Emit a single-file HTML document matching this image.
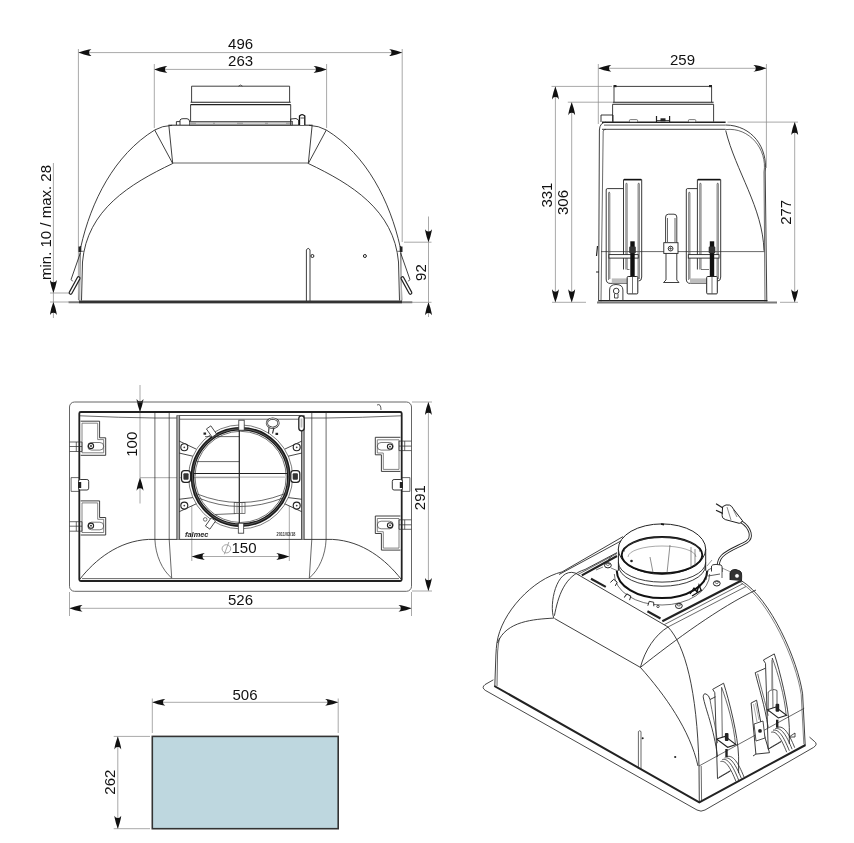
<!DOCTYPE html>
<html><head><meta charset="utf-8"><style>
html,body{margin:0;padding:0;background:#fff;}
svg{display:block;font-family:"Liberation Sans",sans-serif;will-change:transform;}
</style></head><body>
<svg width="854" height="843" viewBox="0 0 854 843">
<rect width="854" height="843" fill="#fff"/>
<line x1="78.4" y1="52.6" x2="402.2" y2="52.6" stroke="#8c8c8c" stroke-width="0.75" fill="none"/><path d="M78.40,52.60 Q84.25,54.84 88.80,55.66 Q90.75,56.00 91.40,56.00 Q88.80,54.64 89.06,52.60 Q88.80,50.56 91.40,49.20 Q90.75,49.20 88.80,49.54 Q84.25,50.36 78.40,52.60Z" fill="#111" stroke="none"/><path d="M402.20,52.60 Q396.35,50.36 391.80,49.54 Q389.85,49.20 389.20,49.20 Q391.80,50.56 391.54,52.60 Q391.80,54.64 389.20,56.00 Q389.85,56.00 391.80,55.66 Q396.35,54.84 402.20,52.60Z" fill="#111" stroke="none"/><line x1="78.4" y1="49.0" x2="78.4" y2="300.0" stroke="#8c8c8c" stroke-width="0.75" fill="none"/><line x1="402.2" y1="49.0" x2="402.2" y2="242.0" stroke="#8c8c8c" stroke-width="0.75" fill="none"/><text x="240.6" y="49" font-size="15" text-anchor="middle" fill="#111">496</text><line x1="154.3" y1="69.4" x2="326.6" y2="69.4" stroke="#8c8c8c" stroke-width="0.75" fill="none"/><path d="M154.30,69.40 Q160.15,71.64 164.70,72.46 Q166.65,72.80 167.30,72.80 Q164.70,71.44 164.96,69.40 Q164.70,67.36 167.30,66.00 Q166.65,66.00 164.70,66.34 Q160.15,67.16 154.30,69.40Z" fill="#111" stroke="none"/><path d="M326.60,69.40 Q320.75,67.16 316.20,66.34 Q314.25,66.00 313.60,66.00 Q316.20,67.36 315.94,69.40 Q316.20,71.44 313.60,72.80 Q314.25,72.80 316.20,72.46 Q320.75,71.64 326.60,69.40Z" fill="#111" stroke="none"/><line x1="154.3" y1="64.0" x2="154.3" y2="128.0" stroke="#8c8c8c" stroke-width="0.75" fill="none"/><line x1="326.6" y1="64.0" x2="326.6" y2="128.0" stroke="#8c8c8c" stroke-width="0.75" fill="none"/><text x="240.6" y="65.8" font-size="15" text-anchor="middle" fill="#111">263</text><line x1="53.4" y1="163.0" x2="53.4" y2="293.0" stroke="#8c8c8c" stroke-width="0.75" fill="none"/><path d="M53.40,293.00 Q55.64,287.15 56.46,282.60 Q56.80,280.65 56.80,280.00 Q55.44,282.60 53.40,282.34 Q51.36,282.60 50.00,280.00 Q50.00,280.65 50.34,282.60 Q51.16,287.15 53.40,293.00Z" fill="#111" stroke="none"/><line x1="53.4" y1="302.0" x2="53.4" y2="318.0" stroke="#8c8c8c" stroke-width="0.75" fill="none"/><path d="M53.40,302.00 Q51.16,307.85 50.34,312.40 Q50.00,314.35 50.00,315.00 Q51.36,312.40 53.40,312.66 Q55.44,312.40 56.80,315.00 Q56.80,314.35 56.46,312.40 Q55.64,307.85 53.40,302.00Z" fill="#111" stroke="none"/><line x1="50.0" y1="293.0" x2="69.0" y2="293.0" stroke="#8c8c8c" stroke-width="0.75" fill="none"/><line x1="50.0" y1="302.0" x2="69.0" y2="302.0" stroke="#8c8c8c" stroke-width="0.75" fill="none"/><line x1="53.4" y1="293.0" x2="53.4" y2="302.0" stroke="#8c8c8c" stroke-width="0.75" fill="none"/><text x="51.3" y="222.5" font-size="15" text-anchor="middle" fill="#111" transform="rotate(-90 51.3 222.5)">min. 10 / max. 28</text><line x1="428.5" y1="216.5" x2="428.5" y2="242.2" stroke="#8c8c8c" stroke-width="0.75" fill="none"/><path d="M428.50,242.20 Q430.74,236.35 431.56,231.80 Q431.90,229.85 431.90,229.20 Q430.54,231.80 428.50,231.54 Q426.46,231.80 425.10,229.20 Q425.10,229.85 425.44,231.80 Q426.26,236.35 428.50,242.20Z" fill="#111" stroke="none"/><line x1="404.0" y1="242.2" x2="431.5" y2="242.2" stroke="#8c8c8c" stroke-width="0.75" fill="none"/><line x1="428.5" y1="302.3" x2="428.5" y2="317.0" stroke="#8c8c8c" stroke-width="0.75" fill="none"/><path d="M428.50,302.30 Q426.26,308.15 425.44,312.70 Q425.10,314.65 425.10,315.30 Q426.46,312.70 428.50,312.96 Q430.54,312.70 431.90,315.30 Q431.90,314.65 431.56,312.70 Q430.74,308.15 428.50,302.30Z" fill="#111" stroke="none"/><line x1="412.0" y1="302.3" x2="431.5" y2="302.3" stroke="#8c8c8c" stroke-width="0.75" fill="none"/><text x="426.5" y="272.6" font-size="15" text-anchor="middle" fill="#111" transform="rotate(-90 426.5 272.6)">92</text><line x1="428.5" y1="242.2" x2="428.5" y2="302.3" stroke="#8c8c8c" stroke-width="0.75" fill="none"/><line x1="598.3" y1="68.3" x2="766.4" y2="68.3" stroke="#8c8c8c" stroke-width="0.75" fill="none"/><path d="M598.30,68.30 Q604.15,70.54 608.70,71.36 Q610.65,71.70 611.30,71.70 Q608.70,70.34 608.96,68.30 Q608.70,66.26 611.30,64.90 Q610.65,64.90 608.70,65.24 Q604.15,66.06 598.30,68.30Z" fill="#111" stroke="none"/><path d="M766.40,68.30 Q760.55,66.06 756.00,65.24 Q754.05,64.90 753.40,64.90 Q756.00,66.26 755.74,68.30 Q756.00,70.34 753.40,71.70 Q754.05,71.70 756.00,71.36 Q760.55,70.54 766.40,68.30Z" fill="#111" stroke="none"/><line x1="598.3" y1="64.0" x2="598.3" y2="124.0" stroke="#8c8c8c" stroke-width="0.75" fill="none"/><line x1="766.4" y1="64.0" x2="766.4" y2="168.0" stroke="#8c8c8c" stroke-width="0.75" fill="none"/><text x="682.5" y="65" font-size="15" text-anchor="middle" fill="#111">259</text><line x1="555.4" y1="86.4" x2="555.4" y2="302.3" stroke="#8c8c8c" stroke-width="0.75" fill="none"/><path d="M555.40,86.40 Q553.16,92.25 552.34,96.80 Q552.00,98.75 552.00,99.40 Q553.36,96.80 555.40,97.06 Q557.44,96.80 558.80,99.40 Q558.80,98.75 558.46,96.80 Q557.64,92.25 555.40,86.40Z" fill="#111" stroke="none"/><path d="M555.40,302.30 Q557.64,296.45 558.46,291.90 Q558.80,289.95 558.80,289.30 Q557.44,291.90 555.40,291.64 Q553.36,291.90 552.00,289.30 Q552.00,289.95 552.34,291.90 Q553.16,296.45 555.40,302.30Z" fill="#111" stroke="none"/><line x1="551.5" y1="86.4" x2="612.0" y2="86.4" stroke="#8c8c8c" stroke-width="0.75" fill="none"/><line x1="571.7" y1="102.2" x2="571.7" y2="302.3" stroke="#8c8c8c" stroke-width="0.75" fill="none"/><path d="M571.70,102.20 Q569.46,108.05 568.64,112.60 Q568.30,114.55 568.30,115.20 Q569.66,112.60 571.70,112.86 Q573.74,112.60 575.10,115.20 Q575.10,114.55 574.76,112.60 Q573.94,108.05 571.70,102.20Z" fill="#111" stroke="none"/><path d="M571.70,302.30 Q573.94,296.45 574.76,291.90 Q575.10,289.95 575.10,289.30 Q573.74,291.90 571.70,291.64 Q569.66,291.90 568.30,289.30 Q568.30,289.95 568.64,291.90 Q569.46,296.45 571.70,302.30Z" fill="#111" stroke="none"/><line x1="567.8" y1="102.2" x2="612.0" y2="102.2" stroke="#8c8c8c" stroke-width="0.75" fill="none"/><line x1="552.0" y1="302.3" x2="586.0" y2="302.3" stroke="#8c8c8c" stroke-width="0.75" fill="none"/><text x="552.3" y="195.1" font-size="15" text-anchor="middle" fill="#111" transform="rotate(-90 552.3 195.1)">331</text><text x="568.2" y="202.5" font-size="15" text-anchor="middle" fill="#111" transform="rotate(-90 568.2 202.5)">306</text><line x1="794.7" y1="122.1" x2="794.7" y2="302.3" stroke="#8c8c8c" stroke-width="0.75" fill="none"/><path d="M794.70,122.10 Q792.46,127.95 791.64,132.50 Q791.30,134.45 791.30,135.10 Q792.66,132.50 794.70,132.76 Q796.74,132.50 798.10,135.10 Q798.10,134.45 797.76,132.50 Q796.94,127.95 794.70,122.10Z" fill="#111" stroke="none"/><path d="M794.70,302.30 Q796.94,296.45 797.76,291.90 Q798.10,289.95 798.10,289.30 Q796.74,291.90 794.70,291.64 Q792.66,291.90 791.30,289.30 Q791.30,289.95 791.64,291.90 Q792.46,296.45 794.70,302.30Z" fill="#111" stroke="none"/><line x1="727.5" y1="122.1" x2="798.0" y2="122.1" stroke="#8c8c8c" stroke-width="0.75" fill="none"/><line x1="780.0" y1="302.3" x2="798.0" y2="302.3" stroke="#8c8c8c" stroke-width="0.75" fill="none"/><text x="790.6" y="212.3" font-size="15" text-anchor="middle" fill="#111" transform="rotate(-90 790.6 212.3)">277</text><line x1="69.5" y1="608.3" x2="411.5" y2="608.3" stroke="#8c8c8c" stroke-width="0.75" fill="none"/><path d="M69.50,608.30 Q75.35,610.54 79.90,611.36 Q81.85,611.70 82.50,611.70 Q79.90,610.34 80.16,608.30 Q79.90,606.26 82.50,604.90 Q81.85,604.90 79.90,605.24 Q75.35,606.06 69.50,608.30Z" fill="#111" stroke="none"/><path d="M411.50,608.30 Q405.65,606.06 401.10,605.24 Q399.15,604.90 398.50,604.90 Q401.10,606.26 400.84,608.30 Q401.10,610.34 398.50,611.70 Q399.15,611.70 401.10,611.36 Q405.65,610.54 411.50,608.30Z" fill="#111" stroke="none"/><line x1="69.5" y1="592.0" x2="69.5" y2="616.0" stroke="#8c8c8c" stroke-width="0.75" fill="none"/><line x1="411.5" y1="592.0" x2="411.5" y2="616.0" stroke="#8c8c8c" stroke-width="0.75" fill="none"/><text x="240.5" y="604.5" font-size="15" text-anchor="middle" fill="#111">526</text><line x1="428.4" y1="402.0" x2="428.4" y2="591.0" stroke="#8c8c8c" stroke-width="0.75" fill="none"/><path d="M428.40,402.00 Q426.16,407.85 425.34,412.40 Q425.00,414.35 425.00,415.00 Q426.36,412.40 428.40,412.66 Q430.44,412.40 431.80,415.00 Q431.80,414.35 431.46,412.40 Q430.64,407.85 428.40,402.00Z" fill="#111" stroke="none"/><path d="M428.40,591.00 Q430.64,585.15 431.46,580.60 Q431.80,578.65 431.80,578.00 Q430.44,580.60 428.40,580.34 Q426.36,580.60 425.00,578.00 Q425.00,578.65 425.34,580.60 Q426.16,585.15 428.40,591.00Z" fill="#111" stroke="none"/><line x1="412.0" y1="402.0" x2="432.0" y2="402.0" stroke="#8c8c8c" stroke-width="0.75" fill="none"/><line x1="412.0" y1="591.0" x2="432.0" y2="591.0" stroke="#8c8c8c" stroke-width="0.75" fill="none"/><text x="425.2" y="497.6" font-size="15" text-anchor="middle" fill="#111" transform="rotate(-90 425.2 497.6)">291</text><line x1="140.0" y1="385.0" x2="140.0" y2="412.0" stroke="#8c8c8c" stroke-width="0.75" fill="none"/><path d="M140.00,412.00 Q142.24,406.15 143.06,401.60 Q143.40,399.65 143.40,399.00 Q142.04,401.60 140.00,401.34 Q137.96,401.60 136.60,399.00 Q136.60,399.65 136.94,401.60 Q137.76,406.15 140.00,412.00Z" fill="#111" stroke="none"/><line x1="140.0" y1="477.7" x2="140.0" y2="503.5" stroke="#8c8c8c" stroke-width="0.75" fill="none"/><path d="M140.00,477.70 Q137.76,483.55 136.94,488.10 Q136.60,490.05 136.60,490.70 Q137.96,488.10 140.00,488.36 Q142.04,488.10 143.40,490.70 Q143.40,490.05 143.06,488.10 Q142.24,483.55 140.00,477.70Z" fill="#111" stroke="none"/><line x1="140.0" y1="477.7" x2="240.0" y2="477.7" stroke="#8c8c8c" stroke-width="0.75" fill="none"/><text x="137.2" y="444.2" font-size="15" text-anchor="middle" fill="#111" transform="rotate(-90 137.2 444.2)">100</text><line x1="140.0" y1="412.0" x2="140.0" y2="477.7" stroke="#8c8c8c" stroke-width="0.75" fill="none"/><line x1="191.8" y1="556.5" x2="289.3" y2="556.5" stroke="#8c8c8c" stroke-width="0.75" fill="none"/><path d="M191.80,556.50 Q197.65,558.74 202.20,559.56 Q204.15,559.90 204.80,559.90 Q202.20,558.54 202.46,556.50 Q202.20,554.46 204.80,553.10 Q204.15,553.10 202.20,553.44 Q197.65,554.26 191.80,556.50Z" fill="#111" stroke="none"/><path d="M289.30,556.50 Q283.45,554.26 278.90,553.44 Q276.95,553.10 276.30,553.10 Q278.90,554.46 278.64,556.50 Q278.90,558.54 276.30,559.90 Q276.95,559.90 278.90,559.56 Q283.45,558.74 289.30,556.50Z" fill="#111" stroke="none"/><line x1="191.8" y1="506.0" x2="191.8" y2="561.0" stroke="#8c8c8c" stroke-width="0.75" fill="none"/><line x1="289.3" y1="506.0" x2="289.3" y2="561.0" stroke="#8c8c8c" stroke-width="0.75" fill="none"/><text x="244" y="552.9" font-size="15" text-anchor="middle" fill="#111">150</text><ellipse cx="226.4" cy="548.8" rx="4.3" ry="4.1" fill="none" stroke="#9a9a9a" stroke-width="0.9"/><path d="M228.9,542 L224.3,554.3" stroke="#9a9a9a" stroke-width="0.9"/><line x1="152.3" y1="702.3" x2="338.2" y2="702.3" stroke="#8c8c8c" stroke-width="0.75" fill="none"/><path d="M152.30,702.30 Q158.15,704.54 162.70,705.36 Q164.65,705.70 165.30,705.70 Q162.70,704.34 162.96,702.30 Q162.70,700.26 165.30,698.90 Q164.65,698.90 162.70,699.24 Q158.15,700.06 152.30,702.30Z" fill="#111" stroke="none"/><path d="M338.20,702.30 Q332.35,700.06 327.80,699.24 Q325.85,698.90 325.20,698.90 Q327.80,700.26 327.54,702.30 Q327.80,704.34 325.20,705.70 Q325.85,705.70 327.80,705.36 Q332.35,704.54 338.20,702.30Z" fill="#111" stroke="none"/><line x1="152.3" y1="698.5" x2="152.3" y2="733.0" stroke="#8c8c8c" stroke-width="0.75" fill="none"/><line x1="338.2" y1="698.5" x2="338.2" y2="733.0" stroke="#8c8c8c" stroke-width="0.75" fill="none"/><text x="245" y="699.5" font-size="15" text-anchor="middle" fill="#111">506</text><line x1="117.8" y1="736.4" x2="117.8" y2="828.7" stroke="#8c8c8c" stroke-width="0.75" fill="none"/><path d="M117.80,736.40 Q115.56,742.25 114.74,746.80 Q114.40,748.75 114.40,749.40 Q115.76,746.80 117.80,747.06 Q119.84,746.80 121.20,749.40 Q121.20,748.75 120.86,746.80 Q120.04,742.25 117.80,736.40Z" fill="#111" stroke="none"/><path d="M117.80,828.70 Q120.04,822.85 120.86,818.30 Q121.20,816.35 121.20,815.70 Q119.84,818.30 117.80,818.04 Q115.76,818.30 114.40,815.70 Q114.40,816.35 114.74,818.30 Q115.56,822.85 117.80,828.70Z" fill="#111" stroke="none"/><line x1="113.7" y1="736.4" x2="150.0" y2="736.4" stroke="#8c8c8c" stroke-width="0.75" fill="none"/><line x1="113.7" y1="828.7" x2="150.0" y2="828.7" stroke="#8c8c8c" stroke-width="0.75" fill="none"/><text x="115" y="782.2" font-size="15" text-anchor="middle" fill="#111" transform="rotate(-90 115 782.2)">262</text><rect x="152.3" y="736.4" width="185.9" height="92.3" fill="#bed7df" stroke="#333" stroke-width="1.6"/><path d="M172,125.3 Q162,125.8 154.7,130 C114.2,154.9 90.9,201.8 80.8,247" stroke="#2a2a2a" stroke-width="0.9" fill="none"/><path d="M154.7,130 L172.7,163.5" stroke="#2a2a2a" stroke-width="0.9" fill="none"/><path d="M168.9,125.8 L172.7,163.5" stroke="#2a2a2a" stroke-width="0.9" fill="none"/><path d="M172.7,163.5 C129.8,184 87.1,209.7 82.5,262" stroke="#2a2a2a" stroke-width="0.9" fill="none"/><path d="M80.6,246 L79.2,300.5 M82.5,262 L81.5,300.5" stroke="#2a2a2a" stroke-width="0.9" fill="none"/><rect x="78.5" y="246.5" width="2.8" height="5.5" fill="#222"/><path d="M79.8,252 L79.8,300 " stroke="#bbb" stroke-width="1.4"/><path d="M81,251.3 L83.7,251.3" stroke="#333" stroke-width="0.7"/><path d="M80.4,252.8 L71.1,279.4 L72.6,281.3" stroke="#2a2a2a" stroke-width="0.9" fill="none"/><path d="M78.6,278.2 L70.6,292.8" stroke="#222" stroke-width="4" stroke-linecap="round" fill="none"/><path d="M78.6,278.2 L70.6,292.8" stroke="#fff" stroke-width="1.6" stroke-linecap="round" fill="none"/><g transform="translate(481,0) scale(-1,1)"><path d="M172,125.3 Q162,125.8 154.7,130 C114.2,154.9 90.9,201.8 80.8,247" stroke="#2a2a2a" stroke-width="0.9" fill="none"/><path d="M154.7,130 L172.7,163.5" stroke="#2a2a2a" stroke-width="0.9" fill="none"/><path d="M168.9,125.8 L172.7,163.5" stroke="#2a2a2a" stroke-width="0.9" fill="none"/><path d="M172.7,163.5 C129.8,184 87.1,209.7 82.5,262" stroke="#2a2a2a" stroke-width="0.9" fill="none"/><path d="M80.6,246 L79.2,300.5 M82.5,262 L81.5,300.5" stroke="#2a2a2a" stroke-width="0.9" fill="none"/><rect x="78.5" y="246.5" width="2.8" height="5.5" fill="#222"/><path d="M79.8,252 L79.8,300 " stroke="#bbb" stroke-width="1.4"/><path d="M81,251.3 L83.7,251.3" stroke="#333" stroke-width="0.7"/><path d="M80.4,252.8 L71.1,279.4 L72.6,281.3" stroke="#2a2a2a" stroke-width="0.9" fill="none"/><path d="M78.6,278.2 L70.6,292.8" stroke="#222" stroke-width="4" stroke-linecap="round" fill="none"/><path d="M78.6,278.2 L70.6,292.8" stroke="#fff" stroke-width="1.6" stroke-linecap="round" fill="none"/></g><path d="M168.4,125.2 L312.6,125.2" stroke="#222" stroke-width="1"/><path d="M173,163 L308,163" stroke="#555" stroke-width="0.9"/><path d="M68.6,302.3 L412.3,302.3" stroke="#7a7a7a" stroke-width="2"/><path d="M79,301.9 L402,301.9" stroke="#333" stroke-width="2.6"/><path d="M191.6,102 L191.6,86.2 L289.6,86.2 L289.6,102" stroke="#2a2a2a" stroke-width="0.9" fill="none"/><path d="M190.6,102.3 L290.7,102.3 M190.6,104.6 L290.7,104.6" stroke="#222" stroke-width="1.1"/><path d="M190.6,104.6 L190.6,121.6 M290.7,104.6 L290.7,121.6" stroke="#2a2a2a" stroke-width="0.9" fill="none"/><rect x="189.6" y="121.4" width="102.8" height="3.8" fill="#a8a8a8" stroke="#333" stroke-width="0.7"/><path d="M196,123.3 L213,123.3 M215,123.3 L237,123.3 M243,123.3 L265,123.3 M268,123.3 L286,123.3" stroke="#eee" stroke-width="0.8"/><path d="M180,125 L180,120 Q180.5,118.7 183,118.7 L187,118.7 Q189.6,119 189.6,121.4 M176.4,125 L176.4,121.6 L180,121.6 M290.7,125 L290.7,119 L296,118.5 L298.6,120 L298.6,125" stroke="#222" stroke-width="0.9" fill="none"/><path d="M299.5,125 L299.5,116 Q302,113.2 304.8,116 L304.8,125" stroke="#111" stroke-width="1.3" fill="#fff"/><path d="M300.5,118 L304,118" stroke="#222" stroke-width="0.8"/><path d="M238.5,86.2 Q240.5,83.8 242.5,86.2" stroke="#333" stroke-width="0.8" fill="none"/><path d="M306.4,301 L306.4,250 Q308.2,246.8 310,250 L310,301" stroke="#2a2a2a" stroke-width="0.9" fill="none"/><circle cx="312.4" cy="256" r="1.5" fill="none" stroke="#222" stroke-width="1"/><circle cx="364.9" cy="256" r="1.5" fill="none" stroke="#222" stroke-width="1"/><path d="M614,102.2 L614,86.4 L711.6,86.4 L711.6,102.2" stroke="#2a2a2a" stroke-width="0.9" fill="none"/><path d="M612.6,102.2 L713.6,102.2 M612.6,104.3 L713.6,104.3" stroke="#222" stroke-width="1.1"/><path d="M612.6,104.3 L612.6,121.7 M713.6,104.3 L713.6,121.7" stroke="#2a2a2a" stroke-width="0.9" fill="none"/><path d="M602,122.2 L725.6,122.2" stroke="#222" stroke-width="1.6"/><path d="M602,129.3 L725.6,129.3" stroke="#2a2a2a" stroke-width="0.9" fill="none"/><path d="M598.6,301.5 L599.4,130 Q599.8,122.5 606,122.2" stroke="#2a2a2a" stroke-width="0.9" fill="none"/><path d="M601,301.5 L603.2,131 Q603.4,129.5 606,129.3" stroke="#2a2a2a" stroke-width="0.7" fill="none"/><path d="M725.7,125 C751.8,125.3 767.9,147.2 765.2,172 L766.8,301.5" stroke="#2a2a2a" stroke-width="0.9" fill="none"/><path d="M725.7,129.6 C749.3,126.8 767.6,149.5 764,172 L765,301.5" stroke="#2a2a2a" stroke-width="0.7" fill="none"/><path d="M725.7,130.5 C735.7,171.2 762.8,207.5 764,250.8" stroke="#2a2a2a" stroke-width="0.9" fill="none"/><path d="M601,251.6 L764.5,251.6" stroke="#2a2a2a" stroke-width="0.7" fill="none"/><path d="M597,302.4 L777,302.4" stroke="#7a7a7a" stroke-width="2"/><path d="M599,300.6 L767.4,300.6" stroke="#222" stroke-width="1.1"/><path d="M601,122 L601,115 L613,115 L613,122" stroke="#222" stroke-width="0.9" fill="none"/><path d="M656.5,122 L656.5,116 M669.6,122 L669.6,116" stroke="#222" stroke-width="1.2" fill="none"/><path d="M656.5,120.5 L669.6,120.5" stroke="#222" stroke-width="0.8"/><rect x="660.5" y="118.3" width="5" height="3" fill="#222"/><rect x="629.4" y="119.6" width="8.2" height="2.4" rx="1" fill="#fff" stroke="#444" stroke-width="0.7"/><rect x="688.4" y="119.6" width="7.4" height="2.4" rx="1" fill="#fff" stroke="#444" stroke-width="0.7"/><path d="M604,125.1 L725.6,125.1" stroke="#333" stroke-width="0.8"/><rect x="613.5" y="85" width="3" height="2.2" fill="#222"/><rect x="709" y="85" width="3" height="2.2" fill="#222"/><path d="M623.5,188.6 L607.2,188.6 Q606.2,188.6 606.2,190 L606.2,279 Q606.2,283.4 610.2,283.4 L627,283.4" stroke="#222" stroke-width="0.9" fill="none"/><path d="M608.6,280 L608.6,193 Q609.2,190.8 609.8000000000001,193 L609.8000000000001,279" stroke="#555" stroke-width="0.8" fill="none"/><rect x="611.8" y="278.4" width="15.200000000000045" height="5" fill="#bdbdbd"/><path d="M623.5,269.5 L623.5,179.6 L641.7,179.6 L641.7,277 Q641.7,281 638.7,281" stroke="#222" stroke-width="0.9" fill="none"/><path d="M624.0,179.6 L641.2,179.6" stroke="#111" stroke-width="1.6"/><path d="M625.9,269.5 L625.9,184 Q626.5,181.8 627.1,184 L627.1,269.5 L629.5,269.5" stroke="#555" stroke-width="0.8" fill="none"/><path d="M639.3000000000001,279 L639.3000000000001,184 Q638.7,181.8 638.1,184 L638.1,279" stroke="#555" stroke-width="0.8" fill="none"/><rect x="609" y="254.6" width="29.200000000000045" height="3.5" fill="#fff" stroke="#222" stroke-width="0.9"/><rect x="630.3" y="241.3" width="4.4" height="35.5" fill="#111"/><rect x="629.2" y="246.6" width="6.6" height="6.6" rx="1" fill="#333"/><rect x="627.2" y="276.5" width="10.6" height="17.4" rx="1" fill="#fff" stroke="#222" stroke-width="1"/><path d="M632.5,277 L632.5,293.5" stroke="#333" stroke-width="0.7"/><path d="M697.4,188.6 L687.3,188.6 Q686.3,188.6 686.3,190 L686.3,279 Q686.3,283.4 690.3,283.4 L706.6,283.4" stroke="#222" stroke-width="0.9" fill="none"/><path d="M688.6999999999999,280 L688.6999999999999,193 Q689.3,190.8 689.9,193 L689.9,279" stroke="#555" stroke-width="0.8" fill="none"/><rect x="690" y="278.4" width="16.600000000000023" height="5" fill="#bdbdbd"/><path d="M697.4,269.5 L697.4,179.6 L720.7,179.6 L720.7,277 Q720.7,281 717.7,281" stroke="#222" stroke-width="0.9" fill="none"/><path d="M697.9,179.6 L720.2,179.6" stroke="#111" stroke-width="1.6"/><path d="M699.8,269.5 L699.8,184 Q700.4,181.8 701.0,184 L701.0,269.5 L709,269.5" stroke="#555" stroke-width="0.8" fill="none"/><path d="M718.3000000000001,279 L718.3000000000001,184 Q717.7,181.8 717.1,184 L717.1,279" stroke="#555" stroke-width="0.8" fill="none"/><rect x="688.3" y="254.6" width="30.700000000000045" height="3.5" fill="#fff" stroke="#222" stroke-width="0.9"/><rect x="709.8" y="241.3" width="4.4" height="35.5" fill="#111"/><rect x="708.7" y="246.6" width="6.6" height="6.6" rx="1" fill="#333"/><rect x="706.7" y="276.5" width="10.6" height="17.4" rx="1" fill="#fff" stroke="#222" stroke-width="1"/><path d="M712,277 L712,293.5" stroke="#333" stroke-width="0.7"/><path d="M665.6,242.7 L665.6,217 Q665.6,214.2 668.5,214.2 L674,214.2 Q676.8,214.2 676.8,217 L676.8,242.7" stroke="#2a2a2a" stroke-width="0.9" fill="none"/><path d="M667.5,242 L667.5,218 M675,242 L675,218" stroke="#2a2a2a" stroke-width="0.7" fill="none"/><rect x="663.8" y="242.7" width="14.2" height="10.7" fill="#fff" stroke="#222" stroke-width="0.9"/><circle cx="670.6" cy="248.6" r="2.4" fill="none" stroke="#222" stroke-width="0.9"/><path d="M668.6,248.6 L672.6,248.6 M670.6,246.6 L670.6,250.6" stroke="#222" stroke-width="0.6"/><path d="M666,253.4 L666,280 L663.5,282.5 L679,282.5 L676.8,280 L676.8,253.4" stroke="#2a2a2a" stroke-width="0.9" fill="none"/><path d="M609.6,301 L609.6,290 Q609.6,284.5 616,284.5 Q622.9,284.5 622.9,290 L622.9,301" stroke="#2a2a2a" stroke-width="0.9" fill="none"/><circle cx="616.2" cy="291" r="2.8" fill="none" stroke="#222" stroke-width="0.9"/><path d="M614.5,294 L614.5,298 L618,298 L618,294" stroke="#222" stroke-width="0.8" fill="none"/><path d="M597.5,246 L596.5,256 M596,272 L599,272" stroke="#222" stroke-width="1.2" fill="none"/><rect x="69.5" y="402" width="342" height="189.3" rx="5" fill="none" stroke="#555" stroke-width="0.9"/><rect x="79.3" y="412" width="322.4" height="169" rx="1.5" fill="none" stroke="#222" stroke-width="1.8"/><path d="M80,415.8 Q120,417.6 154.9,418 L176.8,418 M304.2,418 L326.1,418 Q361,417.6 401,415.8" stroke="#2a2a2a" stroke-width="0.7" fill="none"/><path d="M176.8,415.5 L304.2,415.5" stroke="#333" stroke-width="0.8"/><path d="M154.9,413 L154.9,539.4 M169.2,413 L169.2,539.4" stroke="#2a2a2a" stroke-width="0.7" fill="none"/><path d="M326.1,413 L326.1,539.4 M311.8,413 L311.8,539.4" stroke="#2a2a2a" stroke-width="0.7" fill="none"/><path d="M148.5,539.4 L332.5,539.4" stroke="#2a2a2a" stroke-width="0.9" fill="none"/><path d="M80,579 C95,560 118,541 148.5,539.4 M401,579 C386,560 363,541 332.5,539.4" stroke="#2a2a2a" stroke-width="0.9" fill="none"/><path d="M154.9,539.4 C155.5,555 162,570 171.7,578 M326.1,539.4 C325.5,555 319,570 309.3,578" stroke="#2a2a2a" stroke-width="0.7" fill="none"/><path d="M169.2,539.4 L171.7,578 M311.8,539.4 L309.3,578" stroke="#2a2a2a" stroke-width="0.7" fill="none"/><path d="M82,578.6 L399,578.6" stroke="#2a2a2a" stroke-width="0.7" fill="none"/><path d="M80.6,421.2 L99.6,421.2 L99.6,437.8 L105.7,437.8 L105.7,455.3 L80.6,455.3" stroke="#2a2a2a" stroke-width="0.9" fill="none"/><path d="M82,423.2 L97.7,423.2 L97.7,439.6 L103.7,439.6 L103.7,452.8 L82,452.8 Z" stroke="#666" stroke-width="0.8" fill="none"/><rect x="87.7" y="442.5" width="16" height="7.6" rx="3.8" fill="none" stroke="#444" stroke-width="0.7"/><circle cx="91" cy="446.0" r="2.6" fill="#fff" stroke="#222" stroke-width="1.1"/><circle cx="91" cy="446.0" r="0.9" fill="#222"/><path d="M69.7,442.0 L82,442.0 L82,451.5 L69.7,451.5 M76.3,442.0 L76.3,451.5 M69.7,446.5 L82,446.5" stroke="#2a2a2a" stroke-width="0.7" fill="none"/><path d="M80.6,500.9 L99.6,500.9 L99.6,517.5 L105.7,517.5 L105.7,535.0 L80.6,535.0" stroke="#2a2a2a" stroke-width="0.9" fill="none"/><path d="M82,502.9 L97.7,502.9 L97.7,519.3 L103.7,519.3 L103.7,532.5 L82,532.5 Z" stroke="#666" stroke-width="0.8" fill="none"/><rect x="87.7" y="522.2" width="16" height="7.6" rx="3.8" fill="none" stroke="#444" stroke-width="0.7"/><circle cx="91" cy="525.7" r="2.6" fill="#fff" stroke="#222" stroke-width="1.1"/><circle cx="91" cy="525.7" r="0.9" fill="#222"/><path d="M69.7,521.7 L82,521.7 L82,531.2 L69.7,531.2 M76.3,521.7 L76.3,531.2 M69.7,526.2 L82,526.2" stroke="#2a2a2a" stroke-width="0.7" fill="none"/><path d="M79.2,477.6 L71.1,477.6 L71.1,491.4 L79.2,491.4" stroke="#2a2a2a" stroke-width="0.7" fill="none"/><rect x="78.5" y="479.5" width="10.2" height="10.5" rx="1.8" fill="#fff" stroke="#222" stroke-width="0.9"/><rect x="78.2" y="482" width="3" height="6" fill="#222"/><g transform="rotate(180 240.5 446.3)"><path d="M80.6,421.2 L99.6,421.2 L99.6,437.8 L105.7,437.8 L105.7,455.3 L80.6,455.3" stroke="#2a2a2a" stroke-width="0.9" fill="none"/><path d="M82,423.2 L97.7,423.2 L97.7,439.6 L103.7,439.6 L103.7,452.8 L82,452.8 Z" stroke="#666" stroke-width="0.8" fill="none"/><rect x="87.7" y="442.5" width="16" height="7.6" rx="3.8" fill="none" stroke="#444" stroke-width="0.7"/><circle cx="91" cy="446.0" r="2.6" fill="#fff" stroke="#222" stroke-width="1.1"/><circle cx="91" cy="446.0" r="0.9" fill="#222"/><path d="M69.7,442.0 L82,442.0 L82,451.5 L69.7,451.5 M76.3,442.0 L76.3,451.5 M69.7,446.5 L82,446.5" stroke="#2a2a2a" stroke-width="0.7" fill="none"/></g><g transform="rotate(180 240.5 525.8) translate(0,0.6)"><path d="M80.6,500.9 L99.6,500.9 L99.6,517.5 L105.7,517.5 L105.7,535.0 L80.6,535.0" stroke="#2a2a2a" stroke-width="0.9" fill="none"/><path d="M82,502.9 L97.7,502.9 L97.7,519.3 L103.7,519.3 L103.7,532.5 L82,532.5 Z" stroke="#666" stroke-width="0.8" fill="none"/><rect x="87.7" y="522.2" width="16" height="7.6" rx="3.8" fill="none" stroke="#444" stroke-width="0.7"/><circle cx="91" cy="525.7" r="2.6" fill="#fff" stroke="#222" stroke-width="1.1"/><circle cx="91" cy="525.7" r="0.9" fill="#222"/><path d="M69.7,521.7 L82,521.7 L82,531.2 L69.7,531.2 M76.3,521.7 L76.3,531.2 M69.7,526.2 L82,526.2" stroke="#2a2a2a" stroke-width="0.7" fill="none"/></g><g transform="translate(481,0) scale(-1,1)"><path d="M79.2,477.6 L71.1,477.6 L71.1,491.4 L79.2,491.4" stroke="#2a2a2a" stroke-width="0.7" fill="none"/><rect x="78.5" y="479.5" width="10.2" height="10.5" rx="1.8" fill="#fff" stroke="#222" stroke-width="0.9"/><rect x="78.2" y="482" width="3" height="6" fill="#222"/></g><path d="M179.7,419.2 L301.3,419.2" stroke="#2a2a2a" stroke-width="0.7" fill="none"/><rect x="177" y="415.5" width="2.6" height="124" fill="#aaa"/><rect x="301.5" y="415.5" width="2.6" height="124" fill="#aaa"/><path d="M176.8,415.5 L176.8,539.4 M179.6,415.5 L179.6,539.4 M301.5,415.5 L301.5,539.4 M304.2,415.5 L304.2,539.4" stroke="#333" stroke-width="0.8"/><circle cx="240.6" cy="476.9" r="52" fill="none" stroke="#444" stroke-width="0.7"/><circle cx="240.6" cy="476.9" r="48.2" fill="none" stroke="#1a1a1a" stroke-width="3.6"/><circle cx="240.6" cy="476.9" r="48.2" fill="none" stroke="#888" stroke-width="0.6"/><circle cx="240.6" cy="476.9" r="45.6" fill="none" stroke="#333" stroke-width="0.7"/><path d="M239.3,428 L239.3,526" stroke="#222" stroke-width="1.2"/><path d="M194,473.5 L287,473.5" stroke="#222" stroke-width="1"/><path d="M196,477.1 L285,477.1" stroke="#777" stroke-width="0.6"/><path d="M197,461.6 L239.3,461.6 M205,436.6 L239.3,436.6" stroke="#2a2a2a" stroke-width="0.7" fill="none"/><path d="M197.2,494 Q239.3,511 284,494 M198.5,498 Q239.3,515 283,498" stroke="#2a2a2a" stroke-width="0.7" fill="none"/><path d="M215,514.5 L235.5,513.6" stroke="#2a2a2a" stroke-width="0.7" fill="none"/><rect x="234.2" y="502.5" width="10.8" height="11.1" fill="none" stroke="#444" stroke-width="0.7"/><path d="M237,502.5 L237,513.6 M242,502.5 L242,513.6" stroke="#555" stroke-width="0.6"/><rect x="181.5" y="470.7" width="9" height="11.6" rx="3" fill="#fff" stroke="#222" stroke-width="1.2"/><rect x="183.4" y="473.3" width="5.2" height="6.4" rx="1" fill="#333"/><rect x="290.8" y="470.7" width="9" height="11.6" rx="3" fill="#fff" stroke="#222" stroke-width="1.2"/><rect x="292.7" y="473.3" width="5.2" height="6.4" rx="1" fill="#333"/><path d="M179.0,441.0 L196.0,449.0 M179.0,453.0 L192.8,456.2" stroke="#333" stroke-width="0.9" fill="none"/><circle cx="184.3" cy="447.3" r="3.5" fill="#fff" stroke="#222" stroke-width="1.1"/><circle cx="184.3" cy="447.3" r="0.9" fill="#444"/><path d="M302.0,441.0 L285.0,449.0 M302.0,453.0 L288.2,456.2" stroke="#333" stroke-width="0.9" fill="none"/><circle cx="296.7" cy="447.3" r="3.5" fill="#fff" stroke="#222" stroke-width="1.1"/><circle cx="296.7" cy="447.3" r="0.9" fill="#444"/><path d="M179.0,499.3 L192.8,497.6 M179.0,511.8 L196.3,503.8" stroke="#333" stroke-width="0.9" fill="none"/><circle cx="184.3" cy="505.6" r="3.5" fill="#fff" stroke="#222" stroke-width="1.1"/><circle cx="184.3" cy="505.6" r="0.9" fill="#444"/><path d="M302.0,499.3 L288.2,497.6 M302.0,511.8 L284.7,503.8" stroke="#333" stroke-width="0.9" fill="none"/><circle cx="296.7" cy="505.6" r="3.5" fill="#fff" stroke="#222" stroke-width="1.1"/><circle cx="296.7" cy="505.6" r="0.9" fill="#444"/><rect x="238.8" y="420.2" width="5.4" height="10" fill="#fff" stroke="#333" stroke-width="0.8" transform="rotate(0 241.5 425.2)"/><rect x="238.3" y="523.2" width="5.4" height="10" fill="#fff" stroke="#333" stroke-width="0.8" transform="rotate(0 241 528.2)"/><rect x="208.8" y="426.5" width="5.4" height="10" fill="#fff" stroke="#333" stroke-width="0.8" transform="rotate(-35 211.5 431.5)"/><rect x="207.8" y="518.5" width="5.4" height="10" fill="#fff" stroke="#333" stroke-width="0.8" transform="rotate(35 210.5 523.5)"/><circle cx="205.2" cy="519.4" r="1.8" fill="#fff" stroke="#333" stroke-width="0.7"/><rect x="203.5" y="432.5" width="2.6" height="2.2" fill="#222"/><rect x="275.5" y="432.8" width="2.6" height="2.2" fill="#222"/><ellipse cx="272.7" cy="423.2" rx="5.8" ry="4.6" fill="none" stroke="#333" stroke-width="2.2"/><ellipse cx="272.7" cy="423.2" rx="5.8" ry="4.6" fill="none" stroke="#fff" stroke-width="0.8"/><path d="M269,427.5 L268.5,433.5 M274,427.5 L272.5,433.5" stroke="#333" stroke-width="1.1"/><rect x="298.8" y="415.8" width="5.4" height="15" rx="2.7" fill="#fff" stroke="#222" stroke-width="1.3"/><rect x="300.6" y="418.5" width="1.8" height="9" fill="#bbb"/><path d="M377,405 Q381,403 381,410" stroke="#333" stroke-width="0.8" fill="none"/><text x="185" y="536.5" font-size="7" font-weight="bold" font-style="italic" fill="#222" textLength="23.5" lengthAdjust="spacingAndGlyphs">falmec</text><text x="276.5" y="536" font-size="4.6" font-weight="bold" fill="#333" textLength="19" lengthAdjust="spacingAndGlyphs">2011/03/18</text><path d="M493.4,679.8 L485,684.6 Q481.2,687.5 485.2,690.3 L697,810 Q701,812.3 705,810 L813.6,747.4 Q818.4,744.2 814.2,741.2 L809.5,737.1" fill="none" stroke="#333" stroke-width="0.9"/><path d="M494.3,686 L699.3,802.3 L805.5,745" fill="none" stroke="#222" stroke-width="2"/><path d="M494.8,686 L495.9,655 Q496.2,648 496.9,643 C501,613 532.8,578.8 562.1,571.9 L623,536.6" stroke="#2a2a2a" stroke-width="0.9" fill="none"/><path d="M497,686 L497.6,652 Q498,645 499.5,638" stroke="#2a2a2a" stroke-width="0.7" fill="none"/><path d="M553.8,618.1 C533.8,619.3 506,620.9 497.5,643" stroke="#2a2a2a" stroke-width="0.9" fill="none"/><path d="M553.8,618.1 C548.9,605.1 556,567 575.2,573 M554.4,615.8 C558,596.8 564.2,575.7 585,569.5 L617,552.6" stroke="#2a2a2a" stroke-width="0.9" fill="none"/><path d="M575.2,573 L668,627" stroke="#2a2a2a" stroke-width="0.9" fill="none"/><path d="M554.5,618.5 L640.4,667.4" stroke="#2a2a2a" stroke-width="0.9" fill="none"/><path d="M640.4,667.4 C645,650 655,635 668,627" stroke="#2a2a2a" stroke-width="0.9" fill="none"/><path d="M668,627 C685,645 697,690 699,766 L699.3,802" stroke="#2a2a2a" stroke-width="0.9" fill="none"/><path d="M701.2,766 L701.6,801" stroke="#2a2a2a" stroke-width="0.7" fill="none"/><path d="M640.4,667.4 C665,695 690,730 698,766" stroke="#2a2a2a" stroke-width="0.9" fill="none"/><path d="M640.4,667.4 C675,640 720,607 756,590" stroke="#2a2a2a" stroke-width="0.9" fill="none"/><path d="M741.5,580.8 C770.6,598.6 797.7,660 802.6,693.8 L805.2,745" stroke="#2a2a2a" stroke-width="0.9" fill="none"/><path d="M740.3,582.2 C769.2,600 796.2,661 801.2,694.5 L803.8,744" stroke="#333" stroke-width="0.6" fill="none"/><path d="M699,766 L804.2,708.3" stroke="#2a2a2a" stroke-width="0.7" fill="none"/><path d="M662.3,621.3 L741.5,580.6" stroke="#222" stroke-width="2.2"/><path d="M664.3,624.6 L743,583.6 M668,627 L746,586.5" stroke="#2a2a2a" stroke-width="0.7" fill="none"/><path d="M559,574.5 L622,540.4" stroke="#2a2a2a" stroke-width="0.9" fill="none"/><path d="M581.8,575.4 L617,556" stroke="#222" stroke-width="2.2"/><path d="M578,574.5 L617,553.5" stroke="#2a2a2a" stroke-width="0.7" fill="none"/><path d="M614.3,574 A47.7,31 0 0 0 709.7,574" fill="none" stroke="#333" stroke-width="0.7"/><path d="M616.8,570.7 A45.2,27.4 0 0 0 707.2,570.7" fill="none" stroke="#111" stroke-width="2"/><path d="M618.4,549.1 L618.4,570.7 M705.7,549.1 L705.7,570.7" stroke="#222" stroke-width="1"/><path d="M618.4,562.4 A43.6,19.7 0 0 0 705.7,562.4" fill="none" stroke="#222" stroke-width="0.9"/><path d="M618.6,565.7 A43.4,20.5 0 0 0 705.5,565.7" fill="none" stroke="#222" stroke-width="0.9"/><ellipse cx="662" cy="549.1" rx="43.7" ry="25.2" fill="#fff" stroke="#222" stroke-width="1"/><ellipse cx="662" cy="555.1" rx="40.3" ry="18.1" fill="none" stroke="#111" stroke-width="1.9"/><path d="M624,552 A38,14.5 0 0 1 700,552" fill="none" stroke="#444" stroke-width="0.6"/><path d="M628,557 A34,11 0 0 1 696,557" fill="none" stroke="#555" stroke-width="0.5"/><path d="M650,557 L653,572.5 M670,545 L667,573 M691,547 L691,568 M695,549 L695,566" stroke="#444" stroke-width="0.6" fill="none"/><path d="M661,524 L664,524.6" stroke="#111" stroke-width="1.6"/><circle cx="631.5" cy="561" r="1.3" fill="#222"/><path d="M611,584.5 L612,580.0 L616.5,580.5 L617,584.5" fill="#fff" stroke="#222" stroke-width="0.9" transform="rotate(35 614 582.5)"/><path d="M624.7,599 L625.7,594.5 L630.2,595 L630.7,599" fill="#fff" stroke="#222" stroke-width="0.9" transform="rotate(25 627.7 597)"/><path d="M648,606 L649,601.5 L653.5,602 L654,606" fill="#fff" stroke="#222" stroke-width="0.9" transform="rotate(5 651 604)"/><circle cx="658" cy="606.4" r="1.2" fill="none" stroke="#222" stroke-width="0.8"/><ellipse cx="607.9" cy="565.3" rx="3.4" ry="2.6" fill="#fff" stroke="#222" stroke-width="1"/><ellipse cx="607.9" cy="564.3" rx="1.6" ry="1.1" fill="none" stroke="#333" stroke-width="0.7"/><ellipse cx="678.9" cy="605.9" rx="3.4" ry="2.6" fill="#fff" stroke="#222" stroke-width="1"/><ellipse cx="678.9" cy="604.9" rx="1.6" ry="1.1" fill="none" stroke="#333" stroke-width="0.7"/><ellipse cx="716.8" cy="583.4" rx="3.4" ry="2.6" fill="#fff" stroke="#222" stroke-width="1"/><ellipse cx="716.8" cy="582.4" rx="1.6" ry="1.1" fill="none" stroke="#333" stroke-width="0.7"/><path d="M611,568 L618,571 M603,567 L596,570 M607,561 L612,556" stroke="#444" stroke-width="0.7" fill="none"/><path d="M690,594 L694,588 L697,592 L699,585 L701,590 M692,596 L702,590" stroke="#111" stroke-width="1.3" fill="none"/><path d="M706,580 L708,570 L716,566 L722,568 L722,578 M708,576 L720,574" stroke="#333" stroke-width="0.8" fill="none"/><path d="M707,566 L712,560 M722,568 L733,573" stroke="#555" stroke-width="0.6" fill="none"/><path d="M730,580 L730,573 Q731,569 736,569.5 L740,571 Q742,572 741.7,576 L741.5,581" fill="#333" stroke="#111" stroke-width="0.8"/><circle cx="737" cy="575.9" r="2.4" fill="#fff" stroke="#222" stroke-width="0.9"/><path d="M591,578.8 L605.8,586.9" stroke="#222" stroke-width="2.2"/><path d="M647.4,611.3 L660.5,618.5" stroke="#222" stroke-width="2.2"/><path d="M741.3,521.7 C751,528 753,538 746.6,542 C740,546 728,550 722.1,556 C718,560 717.8,565 717.8,570" fill="none" stroke="#222" stroke-width="3"/><path d="M741.3,521.7 C751,528 753,538 746.6,542 C740,546 728,550 722.1,556 C718,560 717.8,565 717.8,570" fill="none" stroke="#fff" stroke-width="1.2"/><path d="M722.6,506.7 Q726,504 729.6,505.1 Q732,506 733.3,508.9 L742.4,520.6 Q741.5,523.5 739.2,523.3 L725.3,519.6 Q721.5,518 722.1,515.3 Z" fill="#fff" stroke="#222" stroke-width="1"/><path d="M727,507 L731,520 M733.5,510 L737,517" stroke="#555" stroke-width="0.7" fill="none"/><path d="M722.5,507.8 L716.5,504 M722.2,513.2 L716.5,510.5" stroke="#222" stroke-width="1.3" stroke-linecap="round"/><path d="M711.5,571.5 L711.5,566 Q712,564.4 716,564.4 L721,565 Q722.2,566 722.1,568 L722.1,572" fill="#fff" stroke="#222" stroke-width="0.9"/><path d="M638.4,769 L638.4,731.5 Q639.6,730 641,731.5 L641,770" stroke="#2a2a2a" stroke-width="0.7" fill="none"/><circle cx="642.7" cy="738.2" r="1" fill="#222"/><circle cx="675.2" cy="757" r="1.1" fill="#222"/><path d="M703.2,696.8 Q703.5,693.0 706.0,694.0 Q709.0,695.0 710.0,699.5 L715.5,696.8" stroke="#2a2a2a" stroke-width="0.9" fill="none"/><path d="M703.2,696.8 C705.0,708.0 714.0,728.0 717.5,756.8" stroke="#2a2a2a" stroke-width="0.9" fill="none"/><path d="M710.0,699.5 C712.0,712.0 716.0,728.0 717.5,743.2" stroke="#2a2a2a" stroke-width="0.7" fill="none"/><path d="M712.7,689.3 L723.6,683.2 C729.0,700.0 738.0,735.0 738.6,756.8 L738.6,773.2" stroke="#2a2a2a" stroke-width="0.9" fill="none"/><path d="M712.7,689.3 L714.8,692.7 L717.5,778.6 L730.5,771.0" stroke="#2a2a2a" stroke-width="0.9" fill="none"/><path d="M721.6,687.3 C727.0,702.0 734.0,725.0 735.5,745.0 M721.6,687.3 L722.3,739.0" stroke="#2a2a2a" stroke-width="0.7" fill="none"/><path d="M716.8,739.1 L725.0,736.4 L735.9,744.5 L727.7,747.3 Z" fill="#fff" stroke="#222" stroke-width="1.1"/><rect x="724.9" y="733" width="3.6" height="8" rx="1" fill="#222"/><path d="M718.9,777.3 L730.5,770.5" stroke="#2a2a2a" stroke-width="0.7" fill="none"/><path d="M722.3,759.5 C728.0,758.0 733.0,766.0 738.6,780.0 M724.5,758.0 C730.5,756.5 735.5,764.0 741.4,778.5 M727.0,756.5 C733.0,755.0 738.0,762.0 744.0,777.0 M720.5,761.5 C726.0,760.0 730.5,768.0 736.0,781.5" stroke="#222" stroke-width="0.8" fill="none"/><rect x="725.3" y="749" width="2.4" height="8" fill="#222"/><path d="M755.2,672.7 L765.5,668.2" stroke="#2a2a2a" stroke-width="0.9" fill="none"/><path d="M755.2,672.7 C758.7,686.7 764.7,705.7 768.2,727.5" stroke="#2a2a2a" stroke-width="0.9" fill="none"/><path d="M757.7,673.7 C760.7,686.7 765.7,703.7 768.2,715.7" stroke="#2a2a2a" stroke-width="0.7" fill="none"/><path d="M763.4,660.0 L774.3,653.9 C779.7,670.7 788.7,705.7 789.3,727.5 L789.3,743.9" stroke="#2a2a2a" stroke-width="0.9" fill="none"/><path d="M763.4,660.0 L765.5,663.4 L768.2,749.3 L781.2,741.7" stroke="#2a2a2a" stroke-width="0.9" fill="none"/><path d="M772.3,658.0 C777.7,672.7 784.7,695.7 786.2,715.7 M772.3,658.0 L773.0,709.7" stroke="#2a2a2a" stroke-width="0.7" fill="none"/><path d="M767.5,709.8 L775.7,707.1 L786.6,715.2 L778.4,718.0 Z" fill="#fff" stroke="#222" stroke-width="1.1"/><rect x="775.6" y="703.7" width="3.6" height="8" rx="1" fill="#222"/><path d="M769.6,748.0 L781.2,741.2" stroke="#2a2a2a" stroke-width="0.7" fill="none"/><path d="M773.0,730.2 C778.7,728.7 783.7,736.7 789.3,750.7 M775.2,728.7 C781.2,727.2 786.2,734.7 792.1,749.2 M777.7,727.2 C783.7,725.7 788.7,732.7 794.7,747.7 M771.2,732.2 C776.7,730.7 781.2,738.7 786.7,752.2" stroke="#222" stroke-width="0.8" fill="none"/><rect x="776.0" y="719.7" width="2.4" height="8" fill="#222"/><path d="M768.2,692 L768.2,712 M777,690.5 L777,707 M768.2,692 Q772.6,688 777,690.5" stroke="#333" stroke-width="0.8" fill="none"/><path d="M772,660 L772,690" stroke="#999" stroke-width="1.5"/><path d="M751.1,703 L756.6,700.2 L761.4,725.5 L769.5,752.7 L755.9,754.1 L753,756 M751.1,703 L755.9,754.1" fill="none" stroke="#222" stroke-width="0.9"/><path d="M754,724 L763,721 L765,738 L756,741 Z" fill="#fff" stroke="#222" stroke-width="0.8"/><circle cx="760" cy="730.9" r="1.9" fill="#222"/><path d="M753.5,704 L757,722 M755.5,703 L759,720" stroke="#777" stroke-width="0.6"/><path d="M789,737 L795,733 L795,737 Z" fill="none" stroke="#222" stroke-width="0.8"/>
</svg></body></html>
